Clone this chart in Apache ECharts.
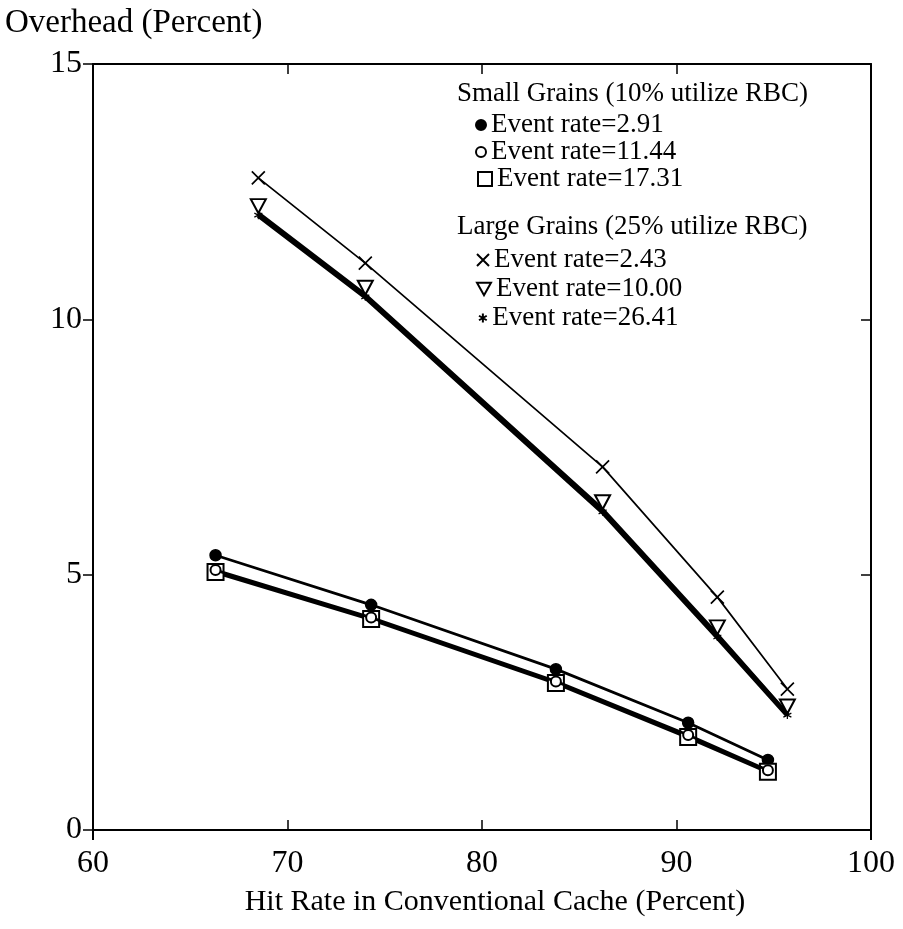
<!DOCTYPE html>
<html>
<head>
<meta charset="utf-8">
<style>
  html, body { margin: 0; padding: 0; background: #fff; }
  #chart { width: 903px; height: 929px; }
</style>
<script src="https://cdn.jsdelivr.net/npm/echarts/dist/echarts.min.js"></script>
</head>
<body>
<div id="chart"></div>
<script>
// values
const smallHit = [66.3, 74.3, 83.8, 90.6, 94.7];
const smallRate291 = [5.38, 4.41, 3.15, 2.10, 1.37];
const smallRate1144 = [5.09, 4.16, 2.91, 1.86, 1.17];
const smallRate1731 = [5.05, 4.13, 2.88, 1.82, 1.14];

const largeHit = [68.5, 74.0, 86.2, 92.1, 95.7];
const largeRate243 = [12.77, 11.10, 7.11, 4.56, 2.76];
const largeRate1000 = [12.10, 10.50, 6.30, 3.85, 2.30];
const largeRate2641 = [12.04, 10.44, 6.23, 3.78, 2.25];

const xTicks = { min: 60, max: 100, interval: 10 };
const yTicks = { min: 0, max: 15, interval: 5 };

const smallHeader = "Small Grains (10% utilize RBC)";
const largeHeader = "Large Grains (25% utilize RBC)";
const smallNames = ["Event rate=2.91", "Event rate=11.44", "Event rate=17.31"];
const largeNames = ["Event rate=2.43", "Event rate=10.00", "Event rate=26.41"];

const FONT = '"Liberation Serif", "Times New Roman", serif';
const INK = "#000";

const crossPath = "path://M0,0L10,10M10,0L0,10";
const downTriPath = "path://M0,0L10,0L5,9Z";
const starPath = "path://M5,0L5,10M0.7,2.5L9.3,7.5M0.7,7.5L9.3,2.5";

function pairs(xs, ys) {
    return xs.map((x, i) => [x, ys[i]]);
}

function textStyle(size, lineHeight) {
    return { fontFamily: FONT, fontSize: size, fontWeight: "normal", color: INK, lineHeight: lineHeight };
}

function makeLegend(name, icon, left, top, w, h) {
    return {
        data: [{ name: name, icon: icon }],
        orient: "vertical",
        left: left,
        top: top,
        padding: 0,
        itemWidth: w,
        itemHeight: h,
        selectedMode: false,
        textStyle: textStyle(27, 28)
    };
}

function lineSeries(name, xs, ys, opts) {
    return Object.assign({
        name: name,
        type: "line",
        data: pairs(xs, ys),
        showSymbol: true,
        animation: false,
        silent: true,
        lineStyle: { color: INK, width: 2 },
        itemStyle: { color: INK, borderColor: INK, borderWidth: 1.5 }
    }, opts);
}

const option = {
    backgroundColor: "#fff",
    animation: false,
    title: [
        { text: "Overhead (Percent)", left: 5, top: 6, padding: 0, textStyle: textStyle(33, 34) },
        { text: smallHeader, left: 457, top: 80, padding: 0, textStyle: textStyle(27, 28) },
        { text: largeHeader, left: 457, top: 213, padding: 0, textStyle: textStyle(27, 28) }
    ],
    legend: [
        makeLegend(smallNames[0], "circle", 475, 111, 10, 10),
        makeLegend(smallNames[1], "emptyCircle", 475, 138, 10, 10),
        makeLegend(smallNames[2], "emptyRect", 477, 165, 14, 14),
        makeLegend(largeNames[0], crossPath, 476, 246, 12, 12),
        makeLegend(largeNames[1], downTriPath, 476, 275, 14, 13),
        makeLegend(largeNames[2], starPath, 478, 304, 9, 9)
    ],
    grid: { left: 93, right: 32, top: 64, bottom: 99 },
    xAxis: [
        {
            type: "value",
            min: xTicks.min, max: xTicks.max, interval: xTicks.interval,
            position: "bottom",
            name: "Hit Rate in Conventional Cache (Percent)",
            nameLocation: "middle",
            nameGap: 56,
            nameTextStyle: Object.assign(textStyle(30, 32), { padding: [0, 0, 0, 26] }),
            axisLine: { show: true, lineStyle: { color: INK, width: 2 } },
            axisTick: { show: true, inside: true, length: 10, lineStyle: { color: INK, width: 1.5 } },
            axisLabel: { margin: 18, fontFamily: FONT, fontSize: 32, color: INK },
            splitLine: { show: false }
        },
        {
            // the vertical frame lines run a little past the bottom axis
            type: "value",
            min: xTicks.min, max: xTicks.max, interval: xTicks.max - xTicks.min,
            position: "bottom",
            axisLine: { show: false },
            axisTick: { show: true, inside: false, length: 10, lineStyle: { color: INK, width: 2 } },
            axisLabel: { show: false },
            splitLine: { show: false }
        },
        {
            type: "value",
            min: xTicks.min, max: xTicks.max, interval: xTicks.interval,
            position: "top",
            axisLine: { show: true, lineStyle: { color: INK, width: 2 } },
            axisTick: { show: true, inside: true, length: 10, lineStyle: { color: INK, width: 1.5 } },
            axisLabel: { show: false },
            splitLine: { show: false }
        }
    ],
    yAxis: [
        {
            type: "value",
            min: yTicks.min, max: yTicks.max, interval: yTicks.interval,
            position: "left",
            axisLine: { show: true, lineStyle: { color: INK, width: 2 } },
            axisTick: { show: true, inside: false, length: 10, lineStyle: { color: INK, width: 1.5 } },
            axisLabel: { margin: 11, fontFamily: FONT, fontSize: 32, color: INK },
            splitLine: { show: false }
        },
        {
            type: "value",
            min: yTicks.min, max: yTicks.max, interval: yTicks.interval,
            position: "right",
            axisLine: { show: true, lineStyle: { color: INK, width: 2 } },
            axisTick: { show: true, inside: true, length: 10, lineStyle: { color: INK, width: 1.5 } },
            axisLabel: { show: false },
            splitLine: { show: false }
        }
    ],
    series: [
        lineSeries(smallNames[0], smallHit, smallRate291, {
            symbol: "circle", symbolSize: 11, z: 3,
            lineStyle: { color: INK, width: 2.8 }
        }),
        lineSeries(smallNames[2], smallHit, smallRate1731, {
            symbol: "emptyRect", symbolSize: 16, z: 3,
            lineStyle: { color: INK, width: 4 },
            itemStyle: { color: INK, borderColor: INK, borderWidth: 2.2 }
        }),
        lineSeries(smallNames[1], smallHit, smallRate1144, {
            symbol: "emptyCircle", symbolSize: 10, z: 4,
            lineStyle: { color: INK, width: 2.8 },
            itemStyle: { color: INK, borderColor: INK, borderWidth: 2.2 }
        }),
        lineSeries(largeNames[0], largeHit, largeRate243, {
            symbol: crossPath, symbolSize: 13, z: 3,
            lineStyle: { color: INK, width: 1.7 },
            itemStyle: { color: "#fff", borderColor: INK, borderWidth: 1.7 }
        }),
        lineSeries(largeNames[2], largeHit, largeRate2641, {
            symbol: starPath, symbolSize: 8, z: 3,
            lineStyle: { color: INK, width: 5 },
            itemStyle: { color: INK, borderColor: INK, borderWidth: 1.2 }
        }),
        lineSeries(largeNames[1], largeHit, largeRate1000, {
            symbol: downTriPath, symbolSize: [15, 14], symbolOffset: [0, -6], z: 4,
            lineStyle: { color: INK, width: 2 },
            itemStyle: { color: "#fff", borderColor: INK, borderWidth: 2 }
        })
    ]
};

try {
    const chart = echarts.init(document.getElementById("chart"), null, { renderer: "canvas" });
    chart.setOption(option);
} catch (e) {
    console.error("[chart] Error initializing chart:", e);
}
</script>
</body>
</html>
